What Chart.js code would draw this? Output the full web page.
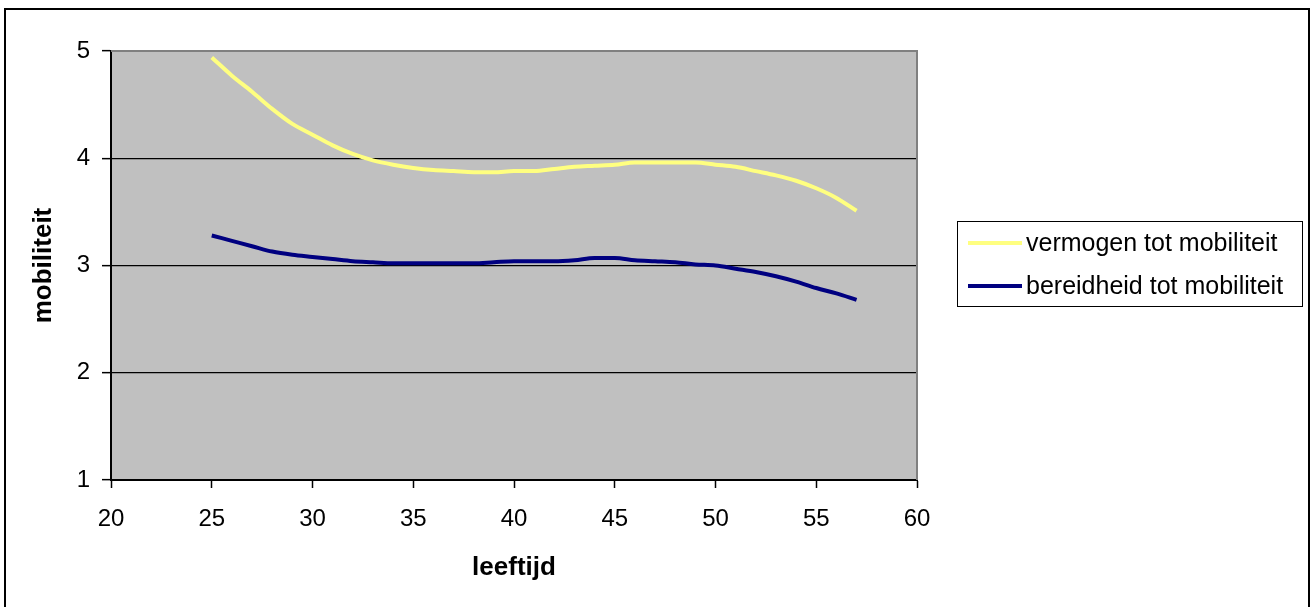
<!DOCTYPE html>
<html>
<head>
<meta charset="utf-8">
<title>mobiliteit naar leeftijd</title>
<script src="https://cdn.jsdelivr.net/npm/chart.js@4/dist/chart.umd.min.js"></script>
<style>
  html, body { margin: 0; padding: 0; background: #ffffff; }
  #wrap { width: 1311px; height: 607px; }
</style>
</head>
<body>
<div id="wrap"><canvas id="mobChart" width="1311" height="607"></canvas></div>
<script>
// leeftijd (x) en gemiddelde scores per reeks
var ages = [25, 26, 27, 28, 29, 30, 31, 32, 33, 34, 35, 36, 37, 38, 39, 40, 41,
            42, 43, 44, 45, 46, 47, 48, 49, 50, 51, 52, 53, 54, 55, 56, 57];
var vermogen = [4.94, 4.77, 4.62, 4.46, 4.32, 4.22, 4.12, 4.04, 3.98, 3.94, 3.91,
                3.89, 3.88, 3.87, 3.87, 3.88, 3.88, 3.90, 3.92, 3.93, 3.94, 3.96,
                3.96, 3.96, 3.96, 3.94, 3.92, 3.88, 3.84, 3.79, 3.72, 3.63, 3.51];
var bereidheid = [3.28, 3.23, 3.18, 3.13, 3.10, 3.08, 3.06, 3.04, 3.03, 3.02, 3.02,
                  3.02, 3.02, 3.02, 3.03, 3.04, 3.04, 3.04, 3.05, 3.07, 3.07, 3.05,
                  3.04, 3.03, 3.01, 3.00, 2.97, 2.94, 2.90, 2.85, 2.79, 2.74, 2.68];
var seriesNames = ['vermogen tot mobiliteit', 'bereidheid tot mobiliteit'];
var xTicks = [20, 25, 30, 35, 40, 45, 50, 55, 60];
var yTicks = [1, 2, 3, 4, 5];

var FONT = '"Liberation Sans", Arial, sans-serif';

function toPoints(xs, ys) {
   return xs.map(function(x, i) { return {x: x, y: ys[i]}; });
}

// grey plot area, its grey top/right edge and the outer frame
var plotFrame = {
   id: 'plotFrame',
   beforeDraw: function(chart) {
      var ctx = chart.ctx, a = chart.chartArea;
      ctx.save();
      ctx.fillStyle = '#ffffff';
      ctx.fillRect(0, 0, chart.width, chart.height);
      ctx.strokeStyle = '#000000';
      ctx.lineWidth = 2;
      ctx.strokeRect(5, 9, chart.width - 7, chart.height + 10);
      ctx.fillStyle = '#c0c0c0';
      ctx.fillRect(a.left, a.top, a.right - a.left, a.bottom - a.top);
      ctx.restore();
   },
   beforeDatasetsDraw: function(chart) {
      var ctx = chart.ctx, a = chart.chartArea;
      ctx.save();
      ctx.strokeStyle = '#808080';
      ctx.lineWidth = 2;
      ctx.beginPath();
      ctx.moveTo(a.left, a.top);
      ctx.lineTo(a.right, a.top);
      ctx.lineTo(a.right, a.bottom);
      ctx.stroke();
      ctx.restore();
   }
};

// boxed legend to the right of the plot
var boxLegend = {
   id: 'boxLegend',
   afterDraw: function(chart) {
      var ctx = chart.ctx;
      var bx = 957, by = 221, bw = 345, bh = 85;
      ctx.save();
      ctx.fillStyle = '#ffffff';
      ctx.fillRect(bx, by, bw, bh);
      ctx.strokeStyle = '#000000';
      ctx.lineWidth = 1;
      ctx.strokeRect(bx + 0.5, by + 0.5, bw, bh);
      ctx.font = '25px ' + FONT;
      ctx.textBaseline = 'middle';
      ctx.fillStyle = '#000000';
      chart.data.datasets.forEach(function(ds, i) {
         var ly = 243 + i * 43;
         ctx.strokeStyle = ds.borderColor;
         ctx.lineWidth = 4;
         ctx.beginPath();
         ctx.moveTo(968, ly);
         ctx.lineTo(1022, ly);
         ctx.stroke();
         ctx.fillText(ds.label, 1026, ly + 1);
      });
      ctx.restore();
   }
};

var ctx = document.getElementById('mobChart').getContext('2d');
var mobChart = new Chart(ctx, {
   type: 'line',
   data: {
      datasets: [{
         label: seriesNames[0],
         data: toPoints(ages, vermogen),
         borderColor: '#ffff80',
         borderWidth: 4,
         pointRadius: 0,
         cubicInterpolationMode: 'monotone'
      }, {
         label: seriesNames[1],
         data: toPoints(ages, bereidheid),
         borderColor: '#000080',
         borderWidth: 4,
         pointRadius: 0,
         cubicInterpolationMode: 'monotone'
      }]
   },
   options: {
      responsive: false,
      animation: false,
      events: [],
      layout: { padding: { left: 0, top: 51, right: 394, bottom: 0 } },
      plugins: {
         legend: { display: false },
         tooltip: { enabled: false }
      },
      scales: {
         x: {
            type: 'linear',
            min: 20,
            max: 60,
            afterBuildTicks: function(s) {
               s.ticks = xTicks.map(function(v) { return {value: v}; });
            },
            afterFit: function(s) { s.height = 127; },
            border: { color: '#000000', width: 2 },
            grid: {
               drawOnChartArea: false,
               drawTicks: true,
               tickLength: 8,
               tickColor: '#000000',
               tickWidth: 1.5
            },
            ticks: {
               color: '#000000',
               font: { family: FONT, size: 24 },
               padding: 17,
               maxRotation: 0
            },
            title: {
               display: true,
               text: 'leeftijd',
               color: '#000000',
               font: { family: FONT, size: 26, weight: 'bold' },
               padding: { top: 0, bottom: 24 }
            }
         },
         y: {
            min: 1,
            max: 5,
            afterBuildTicks: function(s) {
               s.ticks = yTicks.map(function(v) { return {value: v}; });
            },
            afterFit: function(s) { s.width = 111; },
            border: { color: '#000000', width: 2 },
            grid: {
               color: function(c) {
                  return (c.tick && (c.tick.value === 5 || c.tick.value === 1)) ? 'rgba(0,0,0,0)' : '#000000';
               },
               lineWidth: 1.3,
               drawTicks: true,
               tickLength: 9,
               tickColor: '#000000',
               tickWidth: 1.5
            },
            ticks: {
               color: '#000000',
               font: { family: FONT, size: 24 },
               padding: 12
            },
            title: {
               display: true,
               text: 'mobiliteit',
               color: '#000000',
               font: { family: FONT, size: 26, weight: 'bold' },
               padding: { top: 28, bottom: 0 }
            }
         }
      }
   },
   plugins: [plotFrame, boxLegend]
});
</script>
</body>
</html>
